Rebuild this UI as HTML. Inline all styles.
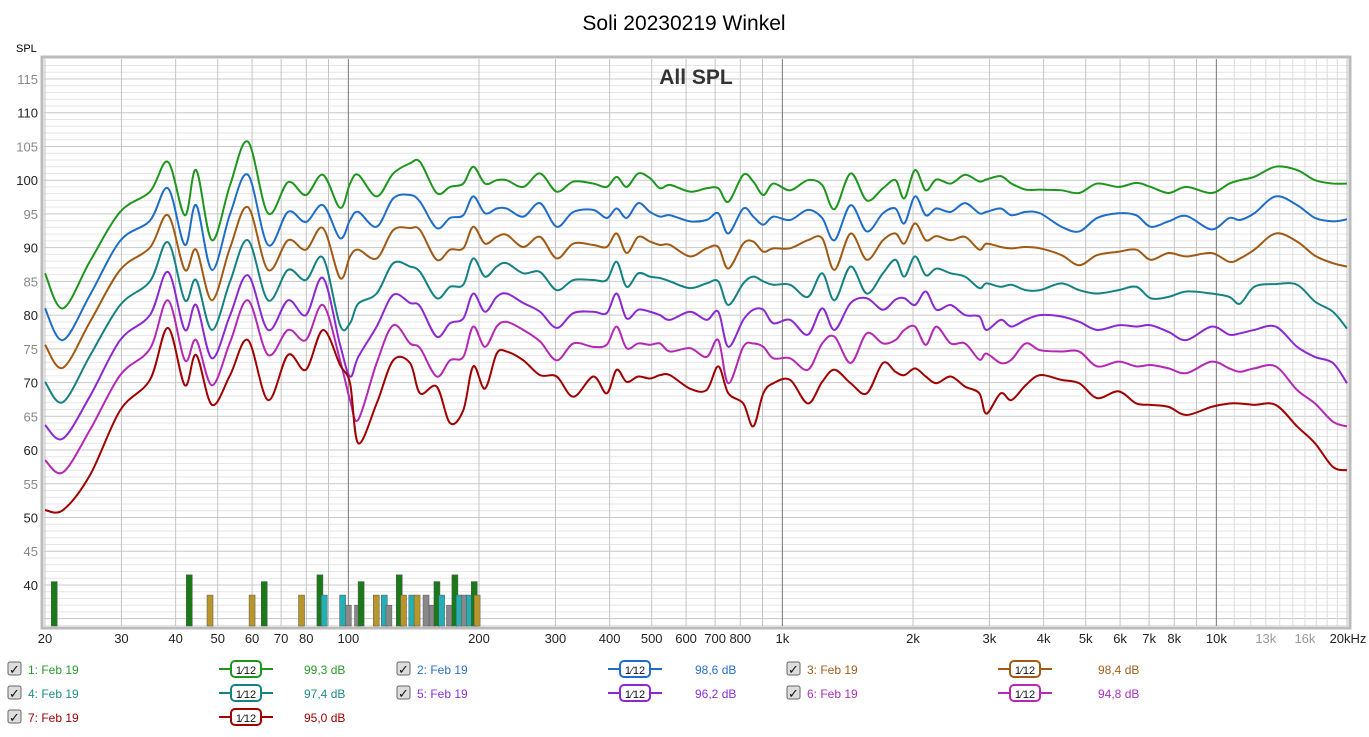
<!DOCTYPE html>
<html><head><meta charset="utf-8"><style>
body{margin:0;background:#fff;font-family:"Liberation Sans",sans-serif;}
svg text{font-family:"Liberation Sans",sans-serif;}
</style></head><body>
<svg id="c" width="1369" height="732">
<text x="684" y="30" font-size="21" text-anchor="middle">Soli 20230219 Winkel</text>
<text x="16" y="52" font-size="11">SPL</text>
<rect x="42" y="57" width="1308" height="571" fill="#fff" stroke="#bbb" stroke-width="3"/>
<g id="grid"></g><g id="bars"></g><g id="lines"></g><g id="axes"></g>
<text x="696" y="84" font-size="21" font-weight="bold" fill="#333" text-anchor="middle">All SPL</text>
<g id="legend"></g>
</svg>
<script>
const freqs=[20,22,25.4,29.8,34.9,38.4,42,44.6,48.5,53.4,58.7,65.3,72.6,79.8,87.4,95.7,
100.9,105.4,116.2,126.9,138.7,146.3,159.8,171.5,184,194,206.4,219.7,231.6,253,276.4,302,330,366.8,393.8,415.2,437.8,465.6,495.4,522.4,550.8,612.6,669.2,711.8,750.8,812.8,857,903.8,953,
1042,1145,1235,1319,1437,1565,1705,1822,1910,2022,2140,2264,2443,2636,2844,2952,3185,3372,3636,3923,4395,4832,5312,5952,6542,7058,7762,8531,9742,10714,11338,12232,13696,15348,16878,18560,20000];
const s1=[86.2,81,88,95.3,98.3,102.7,94.8,101.5,91.1,99.3,105.7,95.1,99.7,97.8,100.8,95.9,
99.5,100.8,97.6,101.0,102.5,102.7,98.1,99.0,99.5,102.0,99.5,100.0,100.0,99.0,101.0,98.3,99.8,99.5,99.0,100.5,99.0,101.0,100.3,98.8,99.3,98.3,98.8,98.8,96.8,100.8,99.8,97.8,99.5,
98.5,100.0,99.3,95.7,101.0,97.0,98.8,100.0,97.3,101.5,98.5,100.1,99.5,100.8,99.8,100.1,100.6,99.5,98.6,98.6,98.5,98.1,99.5,99.0,99.6,99.0,98.1,99.0,98.1,99.5,100.0,100.5,102.0,101.5,100.0,99.5,99.5];
const s2=[81,76.3,83,91,94,98.8,90.4,96.3,86.7,95,100.8,90.4,95.3,93.8,96.3,91.4,
94.1,95.3,93.1,97.3,97.8,96.8,92.9,94.4,94.8,97.6,95.1,95.8,95.8,94.6,96.6,93.1,95.3,95.6,94.4,95.8,94.4,96.6,95.3,94.6,94.8,93.9,94.1,95.1,92.1,95.8,94.6,93.4,94.6,
94.1,95.6,94.4,91.1,96.3,92.4,95.1,95.8,93.6,97.6,94.8,95.8,95.3,96.6,95.1,95.3,95.8,94.8,95.3,95.1,93.1,92.4,94.4,95.1,94.8,93.1,93.9,94.7,92.7,94.4,94.1,95.1,97.6,96.3,94.4,93.9,94.2];
const s3=[75.6,72.2,79,86.7,90,94.8,86.7,89.7,82.2,90,96,86.7,91.1,89.7,92.9,85.5,
88.7,89.7,88.4,92.6,92.9,92.6,88.2,89.7,89.9,93.1,90.6,91.6,91.9,90.1,91.6,88.4,90.6,90.4,90.1,92.1,89.2,91.6,90.9,90.4,90.4,88.7,89.9,90.1,86.9,90.6,90.9,89.4,89.9,
89.9,91.1,91.4,86.7,92.1,88.2,91.1,92.1,90.6,93.6,91.1,91.7,91.1,91.6,89.7,90.6,90.1,89.9,90.1,89.9,88.9,87.4,88.9,89.4,89.7,88.2,89.2,88.7,89.2,87.9,88.4,89.7,92.1,90.9,88.8,87.7,87.2];
const s4=[70.1,67.1,74,81.5,85,90.8,82.2,85.2,77.8,85,91.1,82.2,86.7,85.2,88.5,78.5,
78.8,81.7,83.2,87.7,87.2,86.4,82.5,84.2,84.5,88.4,85.7,87.2,87.7,86.2,86.4,83.7,85.2,85.2,85.2,87.9,84.2,86.2,85.7,85.5,85.0,84.0,84.7,85.0,81.5,84.7,85.7,85.0,84.5,
84.5,82.7,86.2,82.2,87.2,83.2,86.2,88.2,85.7,88.7,85.9,86.9,86.2,85.7,84.0,84.7,84.2,84.5,83.7,83.7,84.7,83.7,83.2,83.7,84.2,82.5,82.7,83.5,83.2,82.7,81.7,84.2,84.6,84.5,82.0,80.5,78.0];
const s5=[63.7,61.7,68,76.3,80,86.4,77.8,81.5,73.6,80,85.9,77.8,82.2,80,85.5,75.6,
70.9,73.8,78.3,83.0,81.8,81.3,76.8,78.8,79.5,83.2,80.5,82.7,83.2,81.8,80.5,78.1,80.3,80.5,80.3,83.2,79.5,80.8,80.5,80.0,79.3,80.5,79.3,80.5,75.3,79.3,80.8,80.8,78.8,
79.3,77.1,81.0,77.8,81.8,82.5,80.8,82.3,82.5,81.5,83.5,80.8,81.5,80.0,79.8,77.8,79.3,78.3,79.3,80.0,79.8,79.0,77.8,78.5,78.3,78.5,77.5,76.3,78.3,77.1,77.3,77.8,78.3,75.3,73.8,72.9,69.9];
const s6=[58.5,56.7,63,71.1,75,82.2,73.3,76.3,69.6,76,82.2,74.1,77.8,76.3,81.5,73.3,
67.4,64.5,72.9,78.5,75.8,75.1,70.9,73.3,73.8,78.3,75.3,78.3,79.0,77.8,76.1,73.3,75.8,75.3,75.6,78.3,75.1,75.8,75.6,75.8,74.6,75.1,73.8,76.3,69.9,75.3,75.8,75.3,73.6,
73.6,71.9,75.8,76.8,72.9,77.3,75.8,76.3,77.8,78.3,75.6,78.3,75.8,75.8,73.4,74.3,72.9,73.4,75.8,74.8,74.6,74.6,72.4,73.1,72.4,72.6,72.1,71.4,73.1,72.1,71.6,72.1,72.4,68.9,66.9,64.2,63.5];
const s7=[51.1,51.1,56.3,65.9,70.4,78.1,69.6,74.1,66.7,71.1,76.3,67.4,74.1,71.9,77.8,72.6,
69.9,61.0,66.9,73.3,72.9,68.4,69.4,64.0,65.9,72.4,69.1,74.3,74.6,73.3,71.1,70.9,67.9,70.9,68.4,71.9,70.1,70.9,70.6,71.1,71.1,69.1,68.9,72.4,68.4,66.9,63.5,68.4,69.9,
70.4,66.9,70.1,71.9,69.9,68.4,72.9,71.6,71.1,72.1,70.9,69.9,70.9,69.4,68.4,65.4,68.4,67.4,69.6,71.1,70.4,69.9,67.7,68.7,66.9,66.7,66.4,65.2,66.4,66.9,66.9,66.7,66.7,63.5,61.0,57.5,57.0];
const yTicks=[40,45,50,55,60,65,70,75,80,85,90,95,100,105,110,115];
const xTicks=[20,30,40,50,60,70,80,100,200,300,400,500,600,700,800,1000,2000,3000,4000,5000,6000,7000,8000,10000,13000,16000];
const xTickLabels=["20","30","40","50","60","70","80","100","200","300","400","500","600","700","800","1k","2k","3k","4k","5k","6k","7k","8k","10k","13k","16k"];
const barFreqs=[21,43,48,60,64,78,86,88,97,100,105,107,116,121,124,131,134,140,144,151,156,160,164,171,176,180,185,190,195,198];
const barTops=[40.5,41.5,38.5,38.5,40.5,38.5,41.5,38.5,38.5,37,37,40.5,38.5,38.5,37,41.5,38.5,38.5,38.5,38.5,37,40.5,38.5,37,41.5,38.5,38.5,38.5,40.5,38.5];
const barColors=["#1a7a1a","#1a7a1a","#b8962a","#b8962a","#1a7a1a","#b8962a","#1a7a1a","#22b0b8","#22b0b8","#888","#888","#1a7a1a","#b8962a","#22b0b8","#888","#1a7a1a","#b8962a","#22b0b8","#b8962a","#888","#888","#1a7a1a","#22b0b8","#888","#1a7a1a","#22b0b8","#888","#22b0b8","#1a7a1a","#b8962a"];
const NS="http://www.w3.org/2000/svg";
const X=f=>45+434*Math.log10(f/20);
const Y=d=>79+(115-d)*6.746;
function mk(t,a,p){const e=document.createElementNS(NS,t);for(const k in a)e.setAttribute(k,a[k]);p.appendChild(e);return e;}
const grid=document.getElementById('grid'),axes=document.getElementById('axes');
for(let d=34;d<=118;d++){const y=Y(d);if(y<59||y>626)continue;
 const l=mk('line',{x1:44,x2:1348,y1:y,y2:y,stroke:d%5==0?'#c8c8c8':'#e6e6e6','stroke-width':1},grid);
 }
const vf=[];for(let d=10;d<=10000;d*=10)for(let m=(d==10?2:1);m<=9;m++)vf.push(m*d);
for(let k=11;k<=20;k++)vf.push(k*1000);
vf.forEach(f=>{if(f<20||f>20000)return;const x=X(f);const dec=(f==100||f==1000||f==10000);
 const light=f>10000&&f<20000;
 const l=mk('line',{x1:x,x2:x,y1:59,y2:626,stroke:dec?'#777':(light?'#dcdcdc':'#c4c4c4'),'stroke-width':1},grid);
 });
yTicks.forEach(v=>{const t=mk('text',{x:38,y:Y(v)+5,'font-size':13,'text-anchor':'end',fill:v%10==0?'#222':'#888'},axes);t.textContent=v;
 });
xTicks.forEach((v,i)=>{const t=mk('text',{x:X(v),y:643,'font-size':13,'text-anchor':'middle',fill:(v==13000||v==16000)?'#999':'#222'},axes);t.textContent=xTickLabels[i];
 });
const tz=mk('text',{x:1348,y:643,'font-size':13,'text-anchor':'middle',fill:'#222'},axes);tz.textContent='20kHz';

const bars=document.getElementById('bars');
barFreqs.forEach((f,i)=>{const y=Y(barTops[i]);const r=mk('rect',{x:X(f)-3,y:y,width:6,height:626-y,fill:barColors[i],stroke:'#555','stroke-width':0.5},bars);
 });
const series=[s1,s2,s3,s4,s5,s6,s7];
const colors=['#1e961e','#1e6ec8','#a05a14','#148282','#8c28d2','#b428b4','#a00000'];
const lines=document.getElementById('lines');
function path(vals){const p=freqs.map((f,i)=>[X(f),Y(vals[i])]);let d='M'+p[0][0]+','+p[0][1];
 for(let i=0;i<p.length-1;i++){const p0=p[Math.max(0,i-1)],p1=p[i],p2=p[i+1],p3=p[Math.min(p.length-1,i+2)];
  d+=' C'+(p1[0]+(p2[0]-p0[0])/6)+','+(p1[1]+(p2[1]-p0[1])/6)+' '+(p2[0]-(p3[0]-p1[0])/6)+','+(p2[1]-(p3[1]-p1[1])/6)+' '+p2[0]+','+p2[1];}
 return d;}
series.forEach((s,i)=>{const e=mk('path',{d:path(s),fill:'none',stroke:colors[i],'stroke-width':2},lines);
 });
const leg=document.getElementById('legend');
const labels=['1: Feb 19','2: Feb 19','3: Feb 19','4: Feb 19','5: Feb 19','6: Feb 19','7: Feb 19'];
const values=['99,3 dB','98,6 dB','98,4 dB','97,4 dB','96,2 dB','94,8 dB','95,0 dB'];
const textCols=['#2a9a2a','#2a70c8','#a0601c','#1e8a8a','#8c30d8','#a830c0','#a00000'];
labels.forEach((lb,i)=>{const col=i%3,row=Math.floor(i/3);const ox=[8,397,787][col],y=669+row*24;
 const g=mk('g',{},leg);
 const cb=mk('rect',{x:ox,y:y-7,width:13,height:13,fill:'#ddd',stroke:'#666',rx:2},g);
 const ck=mk('text',{x:ox+1,y:y+5,'font-size':13,fill:'#111'},g);ck.textContent='✓';
 const t=mk('text',{x:ox+20,y:y+5,'font-size':12,fill:textCols[i]},g);t.textContent=lb;
 const bx=[246,635,1025][col];
 mk('line',{x1:bx-27,x2:bx+27,y1:y,y2:y,stroke:colors[i],'stroke-width':2},g);
 const r=mk('rect',{x:bx-15,y:y-8,width:30,height:16,rx:4,fill:'#fff',stroke:colors[i],'stroke-width':2},g);
 const ft=mk('text',{x:bx,y:y+5,'font-size':11,'text-anchor':'middle',fill:'#111'},g);ft.textContent='1⁄12';
 const v=mk('text',{x:[304,695,1098][col],y:y+5,'font-size':12,fill:textCols[i]},g);v.textContent=values[i];});
</script>
</body></html>
